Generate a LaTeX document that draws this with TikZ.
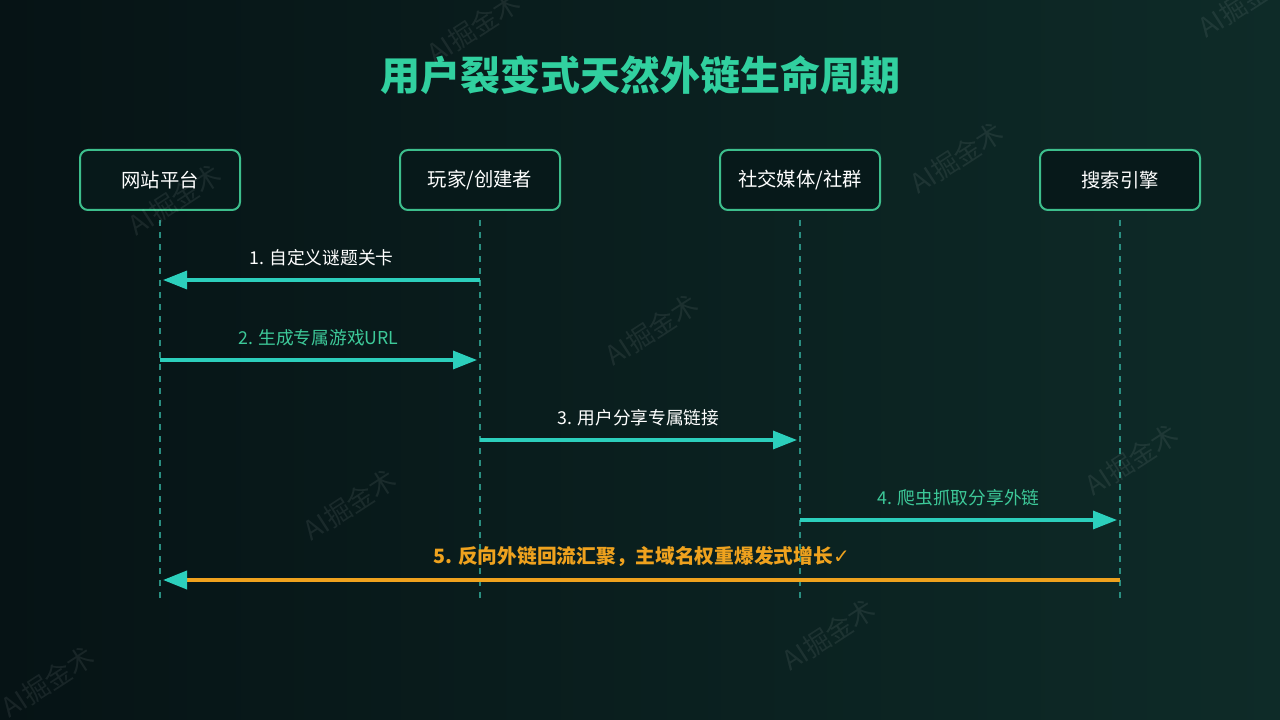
\documentclass[tikz,border=0pt]{standalone}
\usepackage{fontspec}
\setmainfont{Noto Sans CJK SC}
\newfontfamily\cjk{Noto Sans CJK SC}
\newfontfamily\sym{DejaVu Sans}
\usetikzlibrary{arrows.meta}
\definecolor{bgL}{HTML}{061315}
\definecolor{bgR}{HTML}{0E2B28}
\definecolor{boxfill}{HTML}{07191A}
\definecolor{boxline}{HTML}{3DBE8C}
\definecolor{titlec}{HTML}{31D09F}
\definecolor{teal}{HTML}{2CCFBC}
\definecolor{life}{HTML}{2A8E80}
\definecolor{greenlab}{HTML}{3DC999}
\definecolor{orange}{HTML}{EFA21E}
\tikzset{
  actor/.style={draw=boxline, line width=1.5pt, fill=boxfill, rounded corners=6pt,
    minimum width=120pt, minimum height=45pt, text=white, font=\cjk\fontsize{14.5}{16}\selectfont},
  lifeline/.style={draw=life, line width=0.9pt, dash pattern=on 4.5pt off 4.5pt},
  msg/.style={draw=teal, line width=2.4pt, -{Triangle[length=18pt,width=13.5pt]}},
  lab/.style={font=\cjk\fontsize{13.3}{15}\selectfont, anchor=south},
  wm/.style={text=white, opacity=0.075, rotate=33, font=\cjk\fontsize{20}{22}\selectfont}
}
\begin{document}
\begin{tikzpicture}[x=0.75pt,y=-0.75pt]
\shade[left color=bgL, right color=bgR, shading angle=90] (0,0) rectangle (1280,720);
\useasboundingbox (0,0) rectangle (1280,720);
% title
\node[text=titlec, font=\cjk\bfseries\fontsize{30}{34}\selectfont] (title) at (640,75) {用户裂变式天然外链生命周期};
% actors
\node[actor] (A) at (160,180) {网站平台};
\node[actor] (B) at (480,180) {玩家/创建者};
\node[actor] (C) at (800,180) {社交媒体/社群};
\node[actor] (D) at (1120,180) {搜索引擎};
% lifelines
\foreach \n/\x in {A/160,B/480,C/800,D/1120}{
  \coordinate (\n top) at (\x,220);
  \coordinate (\n bot) at (\x,598);
  \draw[lifeline] (\n top) -- (\n bot);
}
% message coordinates
\coordinate (B1) at (480,280); \coordinate (A1) at (163,280);
\coordinate (A2) at (160,360); \coordinate (B2) at (477,360);
\coordinate (B3) at (480,440); \coordinate (C3) at (797,440);
\coordinate (C4) at (800,520); \coordinate (D4) at (1117,520);
\coordinate (D5) at (1120,580); \coordinate (A5) at (163,580);
\draw[msg] (B1) -- (A1) node[lab, text=white, midway, above=6pt, anchor=south] (l1) {1. 自定义谜题关卡};
\draw[msg] (A2) -- (B2) node[lab, text=greenlab, midway, above=6pt, anchor=south] (l2) {2. 生成专属游戏URL};
\draw[msg] (B3) -- (C3) node[lab, text=white, midway, above=6pt, anchor=south] (l3) {3. 用户分享专属链接};
\draw[msg] (C4) -- (D4) node[lab, text=greenlab, midway, above=6pt, anchor=south] (l4) {4. 爬虫抓取分享外链};
\draw[draw=orange, line width=2.8pt, -{Triangle[length=18pt,width=13.5pt,fill=teal,color=teal]}] (D5) -- (A5)
  node[lab, text=orange, midway, above=5pt, anchor=south, font=\cjk\bfseries\fontsize{14.8}{17}\selectfont] (l5) {5. 反向外链回流汇聚，主域名权重爆发式增长{\sym\bfseries\fontsize{15}{16}\selectfont ✓}};
% watermarks
\foreach \p in {(474,28),(1245,2),(175,200),(957,158),(652,330),(1132,460),(350,505),(829,635),(48,682)}
  \node[wm] at \p {AI掘金术};
\end{tikzpicture}
\end{document}
